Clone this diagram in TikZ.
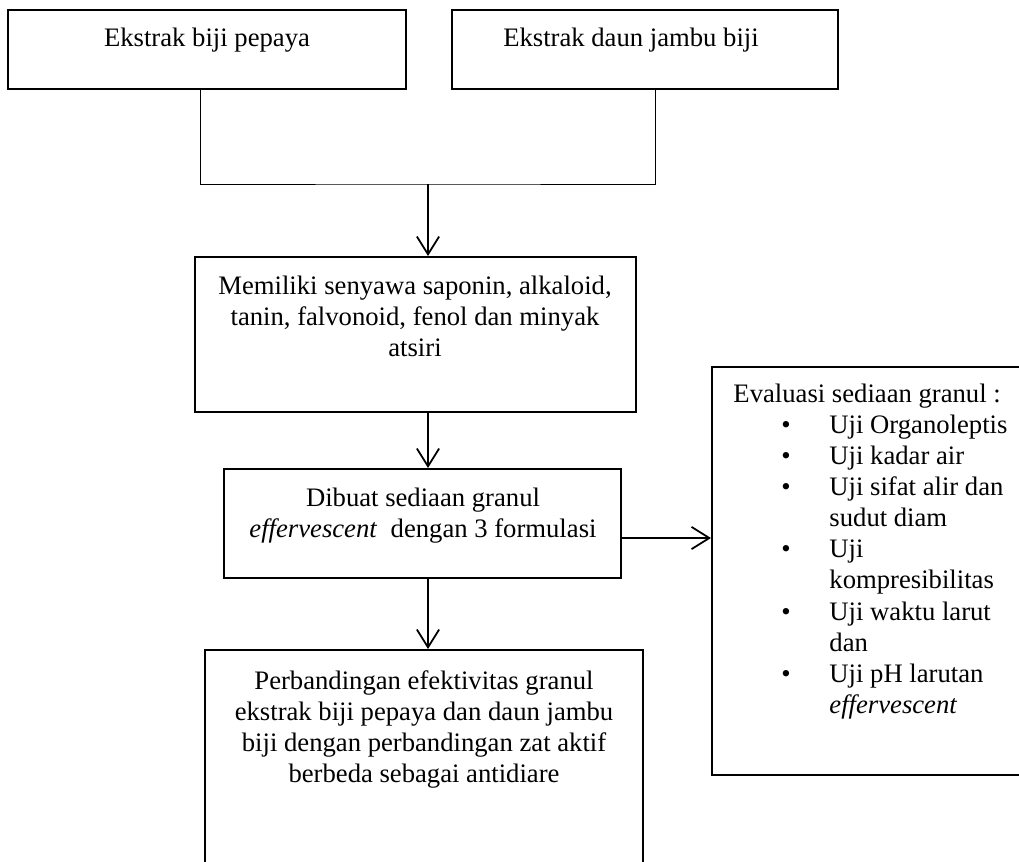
\documentclass[tikz,border=0pt]{standalone}
\usepackage{fontspec}
\setmainfont{Liberation Serif}
\usetikzlibrary{arrows.meta,fit}
\newcommand{\evbul}{\hspace*{21.6pt}\makebox[21.6pt][l]{\textbullet}}
\newcommand{\evind}{\hspace*{43.2pt}}
\begin{document}
\begin{tikzpicture}[x=0.45pt,y=-0.45pt,
  box/.style={draw,line width=0.9pt,inner sep=0pt},
  txt/.style={font=\fontsize{12}{14}\selectfont, align=center, inner sep=0pt, anchor=north},
  arr/.style={line width=0.8pt,-{Straight Barb[length=8pt,width=10pt]}},
  thinline/.style={line width=0.45pt}]
\useasboundingbox[fill=white] (0,0) rectangle (1019,861);

% boxes
\node[box, fit={(8,10) (406,89)}] (b1) {};
\node[box, fit={(452,10) (838,89)}] (b2) {};
\node[box, fit={(195,257) (636,412)}] (b3) {};
\node[box, fit={(224,469) (621,578)}] (b4) {};
\node[box, fit={(205,650) (643,880)}] (b5) {};
\node[box, fit={(712,367) (1030,775)}] (ev) {};

% texts
\node[txt] (t1) at (207,24) {\strut Ekstrak biji pepaya};
\node[txt] (t2) at (631,24) {\strut Ekstrak daun jambu biji};
\node[txt] (t3) at (415,272) {\strut Memiliki senyawa saponin, alkaloid,\\ tanin, falvonoid, fenol dan minyak\\ atsiri};
\node[txt] (t4) at (423,484) {\strut Dibuat sediaan granul\\ \textit{effervescent}\ \ dengan 3 formulasi};
\node[txt] (t5) at (424,667) {\strut Perbandingan efektivitas granul\\ ekstrak biji pepaya dan daun jambu\\ biji dengan perbandingan zat aktif\\ berbeda sebagai antidiare};
\node[txt, align=left, anchor=north west] (t6) at (733,380) {\strut Evaluasi sediaan granul :\\
\evbul Uji Organoleptis\\
\evbul Uji kadar air\\
\evbul Uji sifat alir dan\\
\evind sudut diam\\
\evbul Uji\\
\evind kompresibilitas\\
\evbul Uji waktu larut\\
\evind dan\\
\evbul Uji pH larutan\\
\evind\textit{effervescent}};

% connectors
\coordinate (j) at (428,184);
\coordinate (h) at (0,538);
\draw[thinline] ([xshift=-7*0.45pt]b1.south) |- (j) -| ([xshift=10*0.45pt]b2.south);
\draw[arr] (j) -- (j |- b3.north);
\draw[arr] (b3.south -| j) -- (b4.north -| j);
\draw[arr] (b4.south -| j) -- (b5.north -| j);
\draw[arr] (b4.east |- h) -- (ev.west |- h);
\end{tikzpicture}
\end{document}
